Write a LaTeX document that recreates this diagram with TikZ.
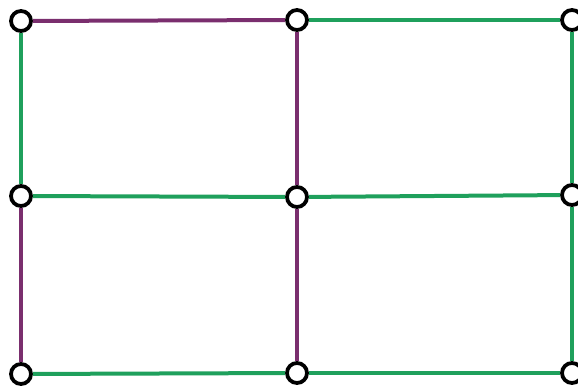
\documentclass[tikz,border=0pt]{standalone}
\definecolor{pur}{HTML}{7A2E6E}
\definecolor{grn}{HTML}{1FA05C}
\tikzset{
  vtx/.style={circle,draw=black,fill=white,line width=3.8pt,minimum size=20pt,inner sep=0pt},
  pe/.style={draw=pur,line width=4pt},
  ge/.style={draw=grn,line width=4pt}
}
\begin{document}
\begin{tikzpicture}[x=1pt,y=-1pt]
\useasboundingbox (0,0) rectangle (578,387);
\node[vtx] (a1) at (21,21) {};
\node[vtx] (a2) at (297,20) {};
\node[vtx] (a3) at (572,20) {};
\node[vtx] (b1) at (21,196) {};
\node[vtx] (b2) at (297,197) {};
\node[vtx] (b3) at (572,195) {};
\node[vtx] (c1) at (21,374) {};
\node[vtx] (c2) at (297,373) {};
\node[vtx] (c3) at (572,373) {};
\draw[pe] (a1) -- (a2);
\draw[ge] (a2) -- (a3);
\draw[ge] (a1) -- (b1);
\draw[pe] (a2) -- (b2);
\draw[ge] (a3) -- (b3);
\draw[ge] (b1) -- (b2);
\draw[ge] (b2) -- (b3);
\draw[pe] (b1) -- (c1);
\draw[pe] (b2) -- (c2);
\draw[ge] (b3) -- (c3);
\draw[ge] (c1) -- (c2);
\draw[ge] (c2) -- (c3);
\end{tikzpicture}
\end{document}
